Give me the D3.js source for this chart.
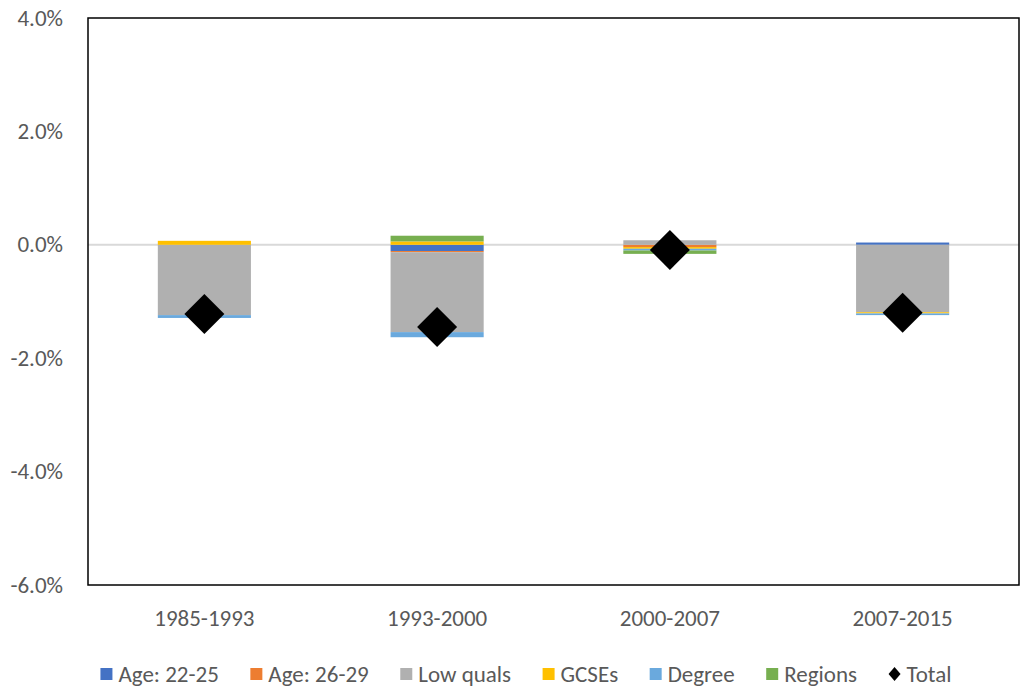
<!DOCTYPE html>
<html><head><meta charset="utf-8">
<script src="https://cdn.jsdelivr.net/npm/d3@7"></script>
<style>body{margin:0;background:#fff;} text{font-family:Carlito,Calibri,Lato,sans-serif;fill:#595959;}</style>
</head><body>
<svg id="c" width="1021" height="691"></svg>
<script>
const categories = ["1985-1993","1993-2000","2000-2007","2007-2015"];
const seriesNames = ["Age: 22-25","Age: 26-29","Low quals","GCSEs","Degree","Regions"];
const seriesColors = ["#4472C4","#ED7D31","#B0B0B0","#FFC000","#6AA9DD","#77AF50"];
const age2225 = [0.000,-0.110, 0.000, 0.040];
const age2629 = [0.000,-0.020,-0.040, 0.000];
const lowQuals = [-1.240,-1.410, 0.080,-1.190];
const gcses    = [0.070, 0.060,-0.030,-0.020];
const degree   = [-0.050,-0.090,-0.030,-0.030];
const regions  = [0.000, 0.100,-0.060, 0.000];
const total    = [-1.22,-1.45,-0.09,-1.20];
const yTicks = [4,2,0,-2,-4,-6];

const allSeries = [age2225,age2629,lowQuals,gcses,degree,regions];
const svg = d3.select("#c");
const m = {l:88,r:1019,t:18,b:585};
const x = d3.scaleBand().domain(categories).range([m.l,m.r]).paddingInner(0.6).paddingOuter(0.3);
const y = d3.scaleLinear().domain([-6,4]).range([m.b,m.t]);

svg.append("line").attr("x1",m.l).attr("x2",m.r).attr("y1",y(0)).attr("y2",y(0))
  .attr("stroke","#d9d9d9").attr("stroke-width",2);

categories.forEach((c,i)=>{
  let pos=0, neg=0;
  allSeries.forEach((s,j)=>{
    const v=s[i]; if(v===0) return;
    let y0,y1;
    if(v>0){y0=pos;y1=pos+v;pos=y1;} else {y0=neg;y1=neg+v;neg=y1;}
    svg.append("rect").attr("x",x(c)).attr("width",x.bandwidth())
      .attr("y",y(Math.max(y0,y1))).attr("height",Math.abs(y(y0)-y(y1)))
      .attr("fill",seriesColors[j]);
  });
});

const dsize=20;
svg.selectAll(".tot").data(total).join("path")
  .attr("d",(d,i)=>{const cx=x(categories[i])+x.bandwidth()/2, cy=y(d);
    return `M${cx},${cy-dsize}L${cx+dsize},${cy}L${cx},${cy+dsize}L${cx-dsize},${cy}Z`;})
  .attr("fill","#000");

svg.append("rect").attr("x",m.l).attr("y",m.t).attr("width",m.r-m.l).attr("height",m.b-m.t)
  .attr("fill","none").attr("stroke","#000").attr("stroke-width",1.5);

svg.selectAll(".yl").data(yTicks).join("text")
  .attr("x",63).attr("y",d=>y(d)).attr("dy","0.33em").attr("text-anchor","end")
  .attr("font-size",23).text(d=>d3.format(".1f")(d).replace("\u2212","-")+"%");

svg.selectAll(".xl").data(categories).join("text")
  .attr("x",d=>x(d)+x.bandwidth()/2).attr("y",618).attr("dy","0.33em")
  .attr("text-anchor","middle").attr("font-size",23).text(d=>d);

const legItems = seriesNames.map((n,i)=>({n,c:seriesColors[i],t:"sq"})).concat([{n:"Total",c:"#000",t:"dia"}]);
const lg = svg.append("g");
const gap = 31.5;
let lx=0;
legItems.forEach(it=>{
  const g=lg.append("g").attr("transform",`translate(${lx},0)`);
  if(it.t==="sq") g.append("rect").attr("x",0).attr("y",-6).attr("width",12).attr("height",12).attr("fill",it.c);
  else g.append("path").attr("d","M6,-7L12,0L6,7L0,0Z").attr("fill","#000");
  const t=g.append("text").attr("x",18).attr("y",0).attr("dy","0.33em").attr("font-size",23).text(it.n);
  lx += 18 + t.node().getComputedTextLength() + gap;
});
lx -= gap;
lg.attr("transform",`translate(${(100+952)/2 - lx/2},674)`);
</script>
</body></html>
